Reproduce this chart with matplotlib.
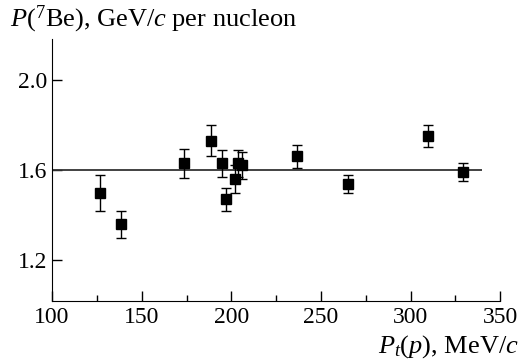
import matplotlib
matplotlib.use("Agg")
import matplotlib.pyplot as plt
from matplotlib.ticker import MultipleLocator
import numpy as np

plt.rcParams["font.family"] = "Liberation Serif"
plt.rcParams["mathtext.fontset"] = "custom"
plt.rcParams["mathtext.rm"] = "Liberation Serif"
plt.rcParams["mathtext.it"] = "Liberation Serif:italic"

# transverse momentum of proton, MeV/c
pt = [126.8, 138.7, 173.8, 188.9, 194.9, 196.9, 201.9, 204.0, 206.2, 236.9, 265.0, 310.0, 329.0]
# momentum of 7Be per nucleon, GeV/c
p_be = [1.50, 1.36, 1.63, 1.73, 1.63, 1.47, 1.56, 1.63, 1.62, 1.66, 1.54, 1.75, 1.59]
err = [0.08, 0.06, 0.065, 0.07, 0.06, 0.05, 0.06, 0.06, 0.06, 0.05, 0.04, 0.05, 0.04]
mean_level = 1.6

fig = plt.figure(figsize=(5.21, 3.64), dpi=100)
ax = fig.add_axes([0.1, 0.173, 0.86, 0.72])

ax.hlines(mean_level, 100, 340, color="#333333", lw=1.3)
ax.errorbar(pt, p_be, yerr=err, fmt="s", color="black", ms=6.5,
            ecolor="black", elinewidth=1, capsize=3.5, capthick=1)

ax.set_xlim(100, 350)
ax.set_ylim(1.02, 2.18)
ax.xaxis.set_major_locator(MultipleLocator(50))
ax.xaxis.set_minor_locator(MultipleLocator(25))
ax.yaxis.set_major_locator(MultipleLocator(0.4))
ax.yaxis.set_major_formatter(matplotlib.ticker.FormatStrFormatter("%.1f"))

for s in ["top", "right"]:
    ax.spines[s].set_visible(False)
ax.tick_params(which="major", direction="in", length=7, width=1, labelsize=17)
ax.tick_params(which="minor", direction="in", length=4, width=1)
ax.tick_params(axis="x", pad=4)

fig.text(0.02, 0.926, r"$P$($^7$Be), GeV/$c$ per nucleon", fontsize=19, ha="left", va="baseline")
fig.text(0.995, 0.01, r"$P_t$($p$), MeV/$c$", fontsize=19, ha="right", va="bottom")

fig.savefig("out.png", dpi=100)
